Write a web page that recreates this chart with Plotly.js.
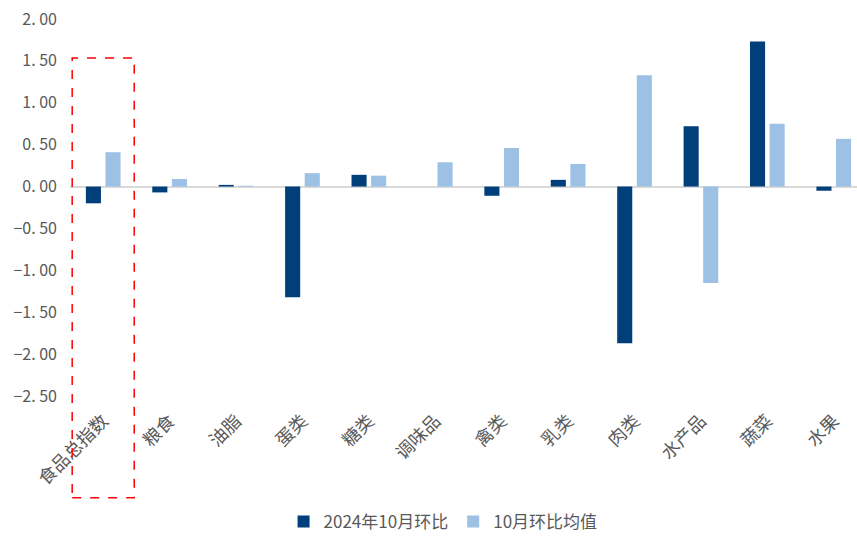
<!DOCTYPE html>
<html>
<head>
<meta charset="utf-8">
<script src="https://cdn.plot.ly/plotly-3.0.1.min.js"></script>
<style>html,body{margin:0;padding:0;background:#fff;}#chart{width:857px;height:540px;}</style>
</head>
<body>
<div id="chart"></div>
<script>
const categories = ["食品总指数","粮食","油脂","蛋类","糖类","调味品","禽类","乳类","肉类","水产品","蔬菜","水果"];
const series2024Oct = [-0.20, -0.07, 0.02, -1.32, 0.14, 0.00, -0.11, 0.08, -1.87, 0.72, 1.73, -0.05];
const seriesOctAvg = [0.41, 0.09, 0.01, 0.16, 0.13, 0.29, 0.46, 0.27, 1.33, -1.15, 0.75, 0.57];
const yTickVals = [2.0, 1.5, 1.0, 0.5, 0.0, -0.5, -1.0, -1.5, -2.0, -2.5];
const yTickText = ["2. 00","1. 50","1. 00","0. 50","0. 00","−0. 50","−1. 00","−1. 50","−2. 00","−2. 50"];
const seriesNames = ["2024年10月环比", "10月环比均值"];

const fontFam = '"Noto Sans CJK SC", "Noto Sans", sans-serif';
const traces = [
  {type:'bar', name: seriesNames[0], x: categories, y: series2024Oct, marker:{color:'#003f7a'}},
  {type:'bar', name: seriesNames[1], x: categories, y: seriesOctAvg, marker:{color:'#9dc0e5'}}
];
const layout = {
  width: 857, height: 540,
  margin: {l:70, r:0, t:19, b:144, pad:0},
  paper_bgcolor:'#fff', plot_bgcolor:'#fff',
  barmode:'group', bargap:0.41, bargroupgap:0.23,
  font:{family:fontFam, color:'#595959', size:16},
  showlegend:true,
  legend:{orientation:'h', x:0.517, xref:'container', xanchor:'center', y:0.0, yref:'container', yanchor:'bottom',
          font:{size:17, color:'#595959'}, itemwidth:30, tracegroupgap:0, bgcolor:'rgba(0,0,0,0)'},
  xaxis:{type:'category', range:[-0.5, 11.35], tickangle:-45, showgrid:false, showline:false,
         ticks:'', tickfont:{size:18, color:'#595959'}, zeroline:false, ticklabelstandoff:10, automargin:false},
  yaxis:{range:[-2.5, 2.0], tickvals:yTickVals, ticktext:yTickText, showgrid:false,
         zeroline:true, zerolinecolor:'#d9d9d9', zerolinewidth:2, showline:false,
         ticks:'', tickfont:{size:16, color:'#595959'}, ticklabelstandoff:12, automargin:false},
  shapes:[{type:'rect', xref:'x', yref:'paper', x0:-0.467, x1:0.467, y0:-0.27, y1:0.8966,
           line:{color:'#ff0000', width:1.5, dash:'dash'}, fillcolor:'rgba(0,0,0,0)'}]
};
Plotly.newPlot('chart', traces, layout, {displayModeBar:false, staticPlot:true});
</script>
</body>
</html>
